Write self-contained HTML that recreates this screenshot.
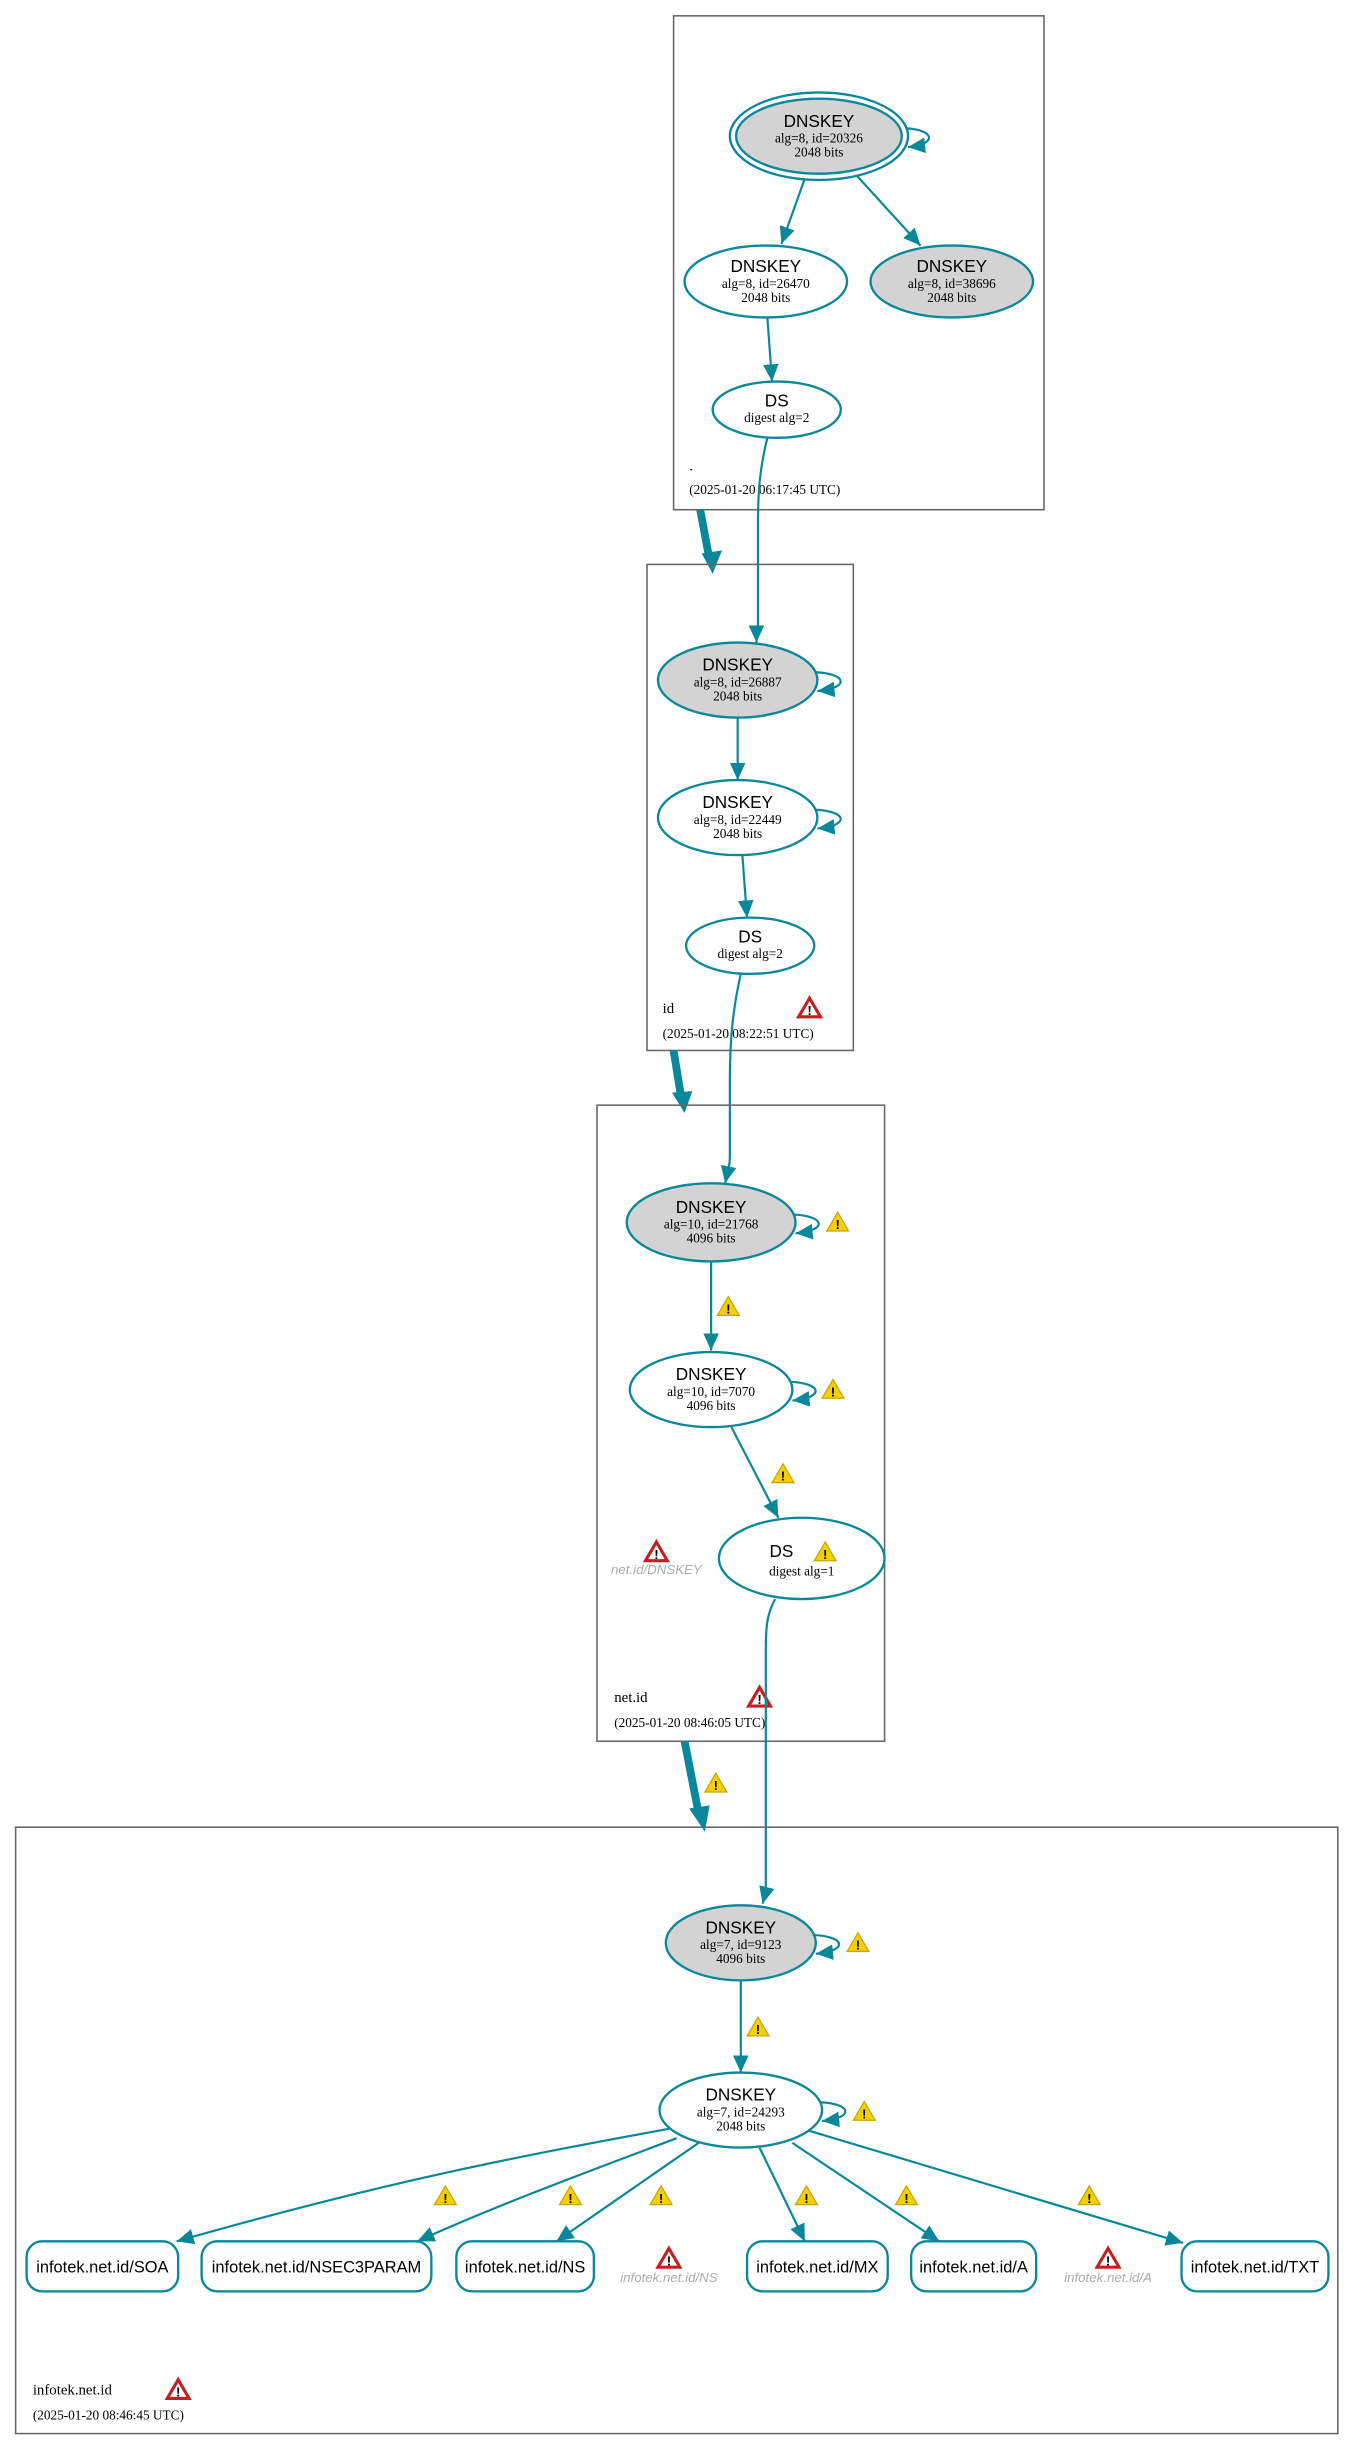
<!DOCTYPE html>
<html><head><meta charset="utf-8"><style>html,body{margin:0;padding:0;background:#fff}svg{display:block}</style></head>
<body>
<svg width="1355" height="2451" viewBox="0 0 867 1568" xmlns="http://www.w3.org/2000/svg">
<defs>
<marker id="a" markerUnits="userSpaceOnUse" markerWidth="12" markerHeight="10" refX="11" refY="5" orient="auto"><path d="M0,0 L11,5 L0,10 z" fill="#0a879a"/></marker>
<g id="wy"><path d="M0,-6.5 L7,5.5 L-7,5.5 z" fill="#f5d000" stroke="#c9a400" stroke-width="0.8"/><text x="0" y="4.3" font-family="Liberation Sans,sans-serif" font-weight="bold" font-size="8.5" text-anchor="middle" fill="#000">!</text></g>
<g id="wr"><path d="M0,-6.5 L7,5.5 L-7,5.5 z" fill="#fff" stroke="#c42020" stroke-width="2"/><text x="0" y="4.3" font-family="Liberation Sans,sans-serif" font-weight="bold" font-size="8.5" text-anchor="middle" fill="#000">!</text></g>
</defs>
<style>
.bx{fill:none;stroke:#666;stroke-width:1}
.n{stroke:#0a879a;stroke-width:1.5}
.e{fill:none;stroke:#0a879a;stroke-width:1.4}
.t{font-family:"Liberation Sans",sans-serif;font-size:11px;text-anchor:middle;fill:#000}
.s{font-family:"Liberation Serif",serif;font-size:8.5px;text-anchor:middle;fill:#000}
.l{font-family:"Liberation Serif",serif;font-size:9.5px;fill:#000}
.ts{font-family:"Liberation Serif",serif;font-size:8.5px;fill:#000}
.g{font-family:"Liberation Sans",sans-serif;font-size:8.5px;font-style:italic;fill:#aaa;text-anchor:middle}
.r{font-family:"Liberation Sans",sans-serif;font-size:10.5px;text-anchor:middle;fill:#000}
</style>

<rect class="bx" x="431" y="10" width="237" height="316"/>
<ellipse class="n" cx="524" cy="87" rx="57" ry="28" fill="none"/>
<ellipse class="n" cx="524" cy="87" rx="53" ry="24" fill="#d3d3d3"/>
<text class="t" x="524" y="81">DNSKEY</text><text class="s" x="524" y="91">alg=8, id=20326</text><text class="s" x="524" y="100">2048 bits</text>
<path class="e" d="M580,82 C598,83 600,92 581,94" marker-end="url(#a)"/>
<ellipse class="n" cx="490" cy="180" rx="52" ry="23" fill="#fff"/>
<text class="t" x="490" y="174">DNSKEY</text><text class="s" x="490" y="184">alg=8, id=26470</text><text class="s" x="490" y="193">2048 bits</text>
<ellipse class="n" cx="609" cy="180" rx="52" ry="23" fill="#d3d3d3"/>
<text class="t" x="609" y="174">DNSKEY</text><text class="s" x="609" y="184">alg=8, id=38696</text><text class="s" x="609" y="193">2048 bits</text>
<path class="e" d="M515,114 L500,156" marker-end="url(#a)"/>
<path class="e" d="M548,112 L589,157" marker-end="url(#a)"/>
<path class="e" d="M491,203 L494,244" marker-end="url(#a)"/>
<ellipse class="n" cx="497" cy="262" rx="41" ry="18" fill="#fff"/>
<text class="t" x="497" y="260">DS</text><text class="s" x="497" y="270">digest alg=2</text>
<text class="l" x="441" y="301">.</text>
<text class="ts" x="441" y="316">(2025-01-20 06:17:45 UTC)</text>
<path class="e" d="M491,280 C486,300 485,315 485,335 L485,400 C485,405 484,408 484,411" marker-end="url(#a)"/>
<path fill="none" stroke="#0a879a" stroke-width="5" d="M448,326 L454,358"/><path d="M449,354 L462,352 L456,367 z" fill="#0a879a"/>

<rect class="bx" x="414" y="361" width="132" height="311"/>
<ellipse class="n" cx="472" cy="435" rx="51" ry="24" fill="#d3d3d3"/>
<text class="t" x="472" y="429">DNSKEY</text><text class="s" x="472" y="439">alg=8, id=26887</text><text class="s" x="472" y="448">2048 bits</text>
<path class="e" d="M522,430 C542,431 544,440 523,442" marker-end="url(#a)"/>
<path class="e" d="M472,459 L472,499" marker-end="url(#a)"/>
<ellipse class="n" cx="472" cy="523" rx="51" ry="24" fill="#fff"/>
<text class="t" x="472" y="517">DNSKEY</text><text class="s" x="472" y="527">alg=8, id=22449</text><text class="s" x="472" y="536">2048 bits</text>
<path class="e" d="M522,518 C542,519 544,528 523,530" marker-end="url(#a)"/>
<path class="e" d="M475,547 L478,587" marker-end="url(#a)"/>
<ellipse class="n" cx="480" cy="605" rx="41" ry="18" fill="#fff"/>
<text class="t" x="480" y="603">DS</text><text class="s" x="480" y="613">digest alg=2</text>
<text class="l" x="424" y="648">id</text>
<use href="#wr" x="518" y="645"/>
<text class="ts" x="424" y="664">(2025-01-20 08:22:51 UTC)</text>
<path class="e" d="M474,623 C469,645 467,665 467,690 L467,740 C467,748 465,752 464,757" marker-end="url(#a)"/>
<path fill="none" stroke="#0a879a" stroke-width="5" d="M431,672 L436,703"/><path d="M430,699 L443,698 L438,712 z" fill="#0a879a"/>

<rect class="bx" x="382" y="707" width="184" height="407"/>
<ellipse class="n" cx="455" cy="782" rx="54" ry="25" fill="#d3d3d3"/>
<text class="t" x="455" y="776">DNSKEY</text><text class="s" x="455" y="786">alg=10, id=21768</text><text class="s" x="455" y="795">4096 bits</text>
<path class="e" d="M508,777 C528,778 530,787 509,789" marker-end="url(#a)"/>
<use href="#wy" x="536" y="782"/>
<path class="e" d="M455,807 L455,864" marker-end="url(#a)"/>
<use href="#wy" x="466" y="836"/>
<ellipse class="n" cx="455" cy="889" rx="52" ry="24" fill="#fff"/>
<text class="t" x="455" y="883">DNSKEY</text><text class="s" x="455" y="893">alg=10, id=7070</text><text class="s" x="455" y="902">4096 bits</text>
<path class="e" d="M506,884 C526,885 528,894 507,896" marker-end="url(#a)"/>
<use href="#wy" x="533" y="889"/>
<path class="e" d="M468,913 L498,971" marker-end="url(#a)"/>
<use href="#wy" x="501" y="943"/>
<ellipse class="n" cx="513" cy="997" rx="53" ry="26" fill="#fff"/>
<text class="t" x="500" y="996">DS</text><use href="#wy" x="528" y="993"/><text class="s" x="513" y="1008">digest alg=1</text>
<use href="#wr" x="420" y="993"/>
<text class="g" x="420" y="1007">net.id/DNSKEY</text>
<text class="l" x="393" y="1089">net.id</text>
<use href="#wr" x="486" y="1086"/>
<text class="ts" x="393" y="1105">(2025-01-20 08:46:05 UTC)</text>
<path class="e" d="M496,1023 C491,1032 490,1040 490,1055 L490,1205 C490,1212 489,1214 488,1218" marker-end="url(#a)"/>
<path fill="none" stroke="#0a879a" stroke-width="5" d="M438,1114 L447,1160"/><path d="M441,1157 L454,1155 L451,1172 z" fill="#0a879a"/>
<use href="#wy" x="458" y="1141"/>

<rect class="bx" x="10" y="1169" width="846" height="388"/>
<ellipse class="n" cx="474" cy="1243" rx="48" ry="24" fill="#d3d3d3"/>
<text class="t" x="474" y="1237">DNSKEY</text><text class="s" x="474" y="1247">alg=7, id=9123</text><text class="s" x="474" y="1256">4096 bits</text>
<path class="e" d="M521,1238 C541,1239 543,1248 522,1250" marker-end="url(#a)"/>
<use href="#wy" x="549" y="1243"/>
<path class="e" d="M474,1267 L474,1326" marker-end="url(#a)"/>
<use href="#wy" x="485" y="1297"/>
<ellipse class="n" cx="474" cy="1350" rx="52" ry="24" fill="#fff"/>
<text class="t" x="474" y="1344">DNSKEY</text><text class="s" x="474" y="1354">alg=7, id=24293</text><text class="s" x="474" y="1363">2048 bits</text>
<path class="e" d="M525,1345 C545,1346 547,1355 526,1357" marker-end="url(#a)"/>
<use href="#wy" x="553" y="1351"/>

<path class="e" d="M428,1362 C330,1380 250,1395 113,1434" marker-end="url(#a)"/>
<path class="e" d="M433,1368 C380,1388 320,1410 267,1434" marker-end="url(#a)"/>
<path class="e" d="M447,1371 L356,1434" marker-end="url(#a)"/>
<path class="e" d="M486,1374 L515,1434" marker-end="url(#a)"/>
<path class="e" d="M507,1371 L601,1434" marker-end="url(#a)"/>
<path class="e" d="M517,1363 L757,1435" marker-end="url(#a)"/>
<use href="#wy" x="285" y="1405"/><use href="#wy" x="365" y="1405"/><use href="#wy" x="423" y="1405"/>
<use href="#wy" x="516" y="1405"/><use href="#wy" x="580" y="1405"/><use href="#wy" x="697" y="1405"/>

<rect class="n" x="17" y="1434" width="97" height="32" rx="10" fill="#fff"/><text class="r" x="65.5" y="1454">infotek.net.id/SOA</text>
<rect class="n" x="129" y="1434" width="147" height="32" rx="10" fill="#fff"/><text class="r" x="202.5" y="1454">infotek.net.id/NSEC3PARAM</text>
<rect class="n" x="292" y="1434" width="88" height="32" rx="10" fill="#fff"/><text class="r" x="336" y="1454">infotek.net.id/NS</text>
<rect class="n" x="478" y="1434" width="90" height="32" rx="10" fill="#fff"/><text class="r" x="523" y="1454">infotek.net.id/MX</text>
<rect class="n" x="583" y="1434" width="80" height="32" rx="10" fill="#fff"/><text class="r" x="623" y="1454">infotek.net.id/A</text>
<rect class="n" x="756" y="1434" width="94" height="32" rx="10" fill="#fff"/><text class="r" x="803" y="1454">infotek.net.id/TXT</text>
<use href="#wr" x="428" y="1445"/><text class="g" x="428" y="1460">infotek.net.id/NS</text>
<use href="#wr" x="709" y="1445"/><text class="g" x="709" y="1460">infotek.net.id/A</text>

<text class="l" x="21" y="1532">infotek.net.id</text>
<use href="#wr" x="114" y="1529"/>
<text class="ts" x="21" y="1548">(2025-01-20 08:46:45 UTC)</text>
</svg>
</body></html>
